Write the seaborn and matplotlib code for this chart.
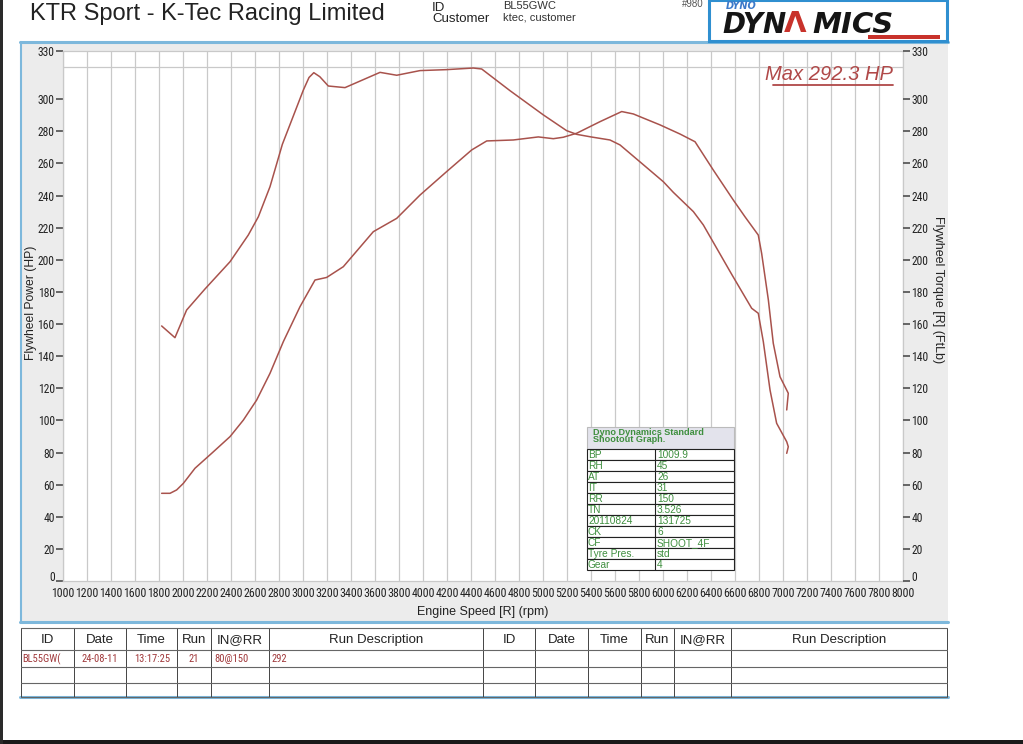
import os
import numpy as np
import pandas as pd
import matplotlib
matplotlib.use("Agg")
import matplotlib.pyplot as plt
from matplotlib import font_manager
from matplotlib.font_manager import FontProperties
from matplotlib.ticker import MultipleLocator
from matplotlib.patches import Rectangle
import seaborn as sns

# ---------------- data ----------------
rpm_power = [1822, 1892, 1947, 2003, 2100, 2239, 2392, 2503, 2614, 2725, 2836, 2975,
             3100, 3197, 3336, 3586, 3781, 3975, 4197, 4406, 4531, 4753, 4961, 5086,
             5169, 5281, 5475, 5656, 5753, 5808, 5975, 6142, 6267, 6419, 6586, 6683,
             6794, 6822, 6878, 6919, 6975, 7044, 7031]
power_hp = [54.6, 54.6, 56.7, 60.8, 70.2, 79.5, 89.9, 100.2, 112.7, 129.3, 149.0, 170.8,
            187.4, 189.0, 195.7, 217.5, 225.8, 240.3, 254.9, 268.4, 274.0, 274.6, 276.5, 275.4,
            276.3, 278.8, 286.0, 292.3, 290.8, 289.1, 284.0, 278.3, 273.5, 255.9, 237.2, 226.8,
            215.4, 204.0, 175.0, 148.0, 127.2, 116.9, 106.5]

rpm_torque = [1822, 1933, 2030, 2183, 2392, 2544, 2628, 2725, 2828, 3003, 3050, 3090, 3140, 3211,
              3350, 3642, 3781, 3975, 4197, 4419, 4489, 4725, 5003, 5197, 5281, 5400,
              5558, 5642, 5822, 6003, 6086, 6253, 6336, 6572, 6739, 6794, 6836, 6892,
              6947, 7031, 7044, 7031]
torque_ftlb = [158.8, 151.5, 168.7, 181.8, 198.8, 215.4, 226.8, 245.5, 271.9, 305.7, 313.5, 316.5, 314.0, 308.2,
               307.2, 316.7, 314.9, 317.8, 318.4, 319.4, 318.8, 305.3, 290.2, 280.4, 278.1, 276.5,
               274.6, 271.5, 260.1, 248.6, 242.0, 230.0, 221.7, 191.0, 169.8, 166.7, 149.0, 118.9,
               98.2, 86.7, 83.6, 79.5]

x_ticks = list(range(1000, 8001, 200))
y_ticks = list(range(0, 301, 20)) + [330]

info_keys = ["BP", "RH", "AT", "IT", "RR", "TN", "20110824", "CK", "CF", "Tyre Pres.", "Gear"]
info_vals = ["1009.9", "45", "26", "31", "150", "3.526", "131725", "6", "SHOOT_4F", "std", "4"]

table_headers = ["ID", "Date", "Time", "Run", "IN@RR", "Run Description",
                 "ID", "Date", "Time", "Run", "IN@RR", "Run Description"]
run_row = ["BL55GW(", "24-08-11", "13:17:25", "21", "80@150", "292"]

# ---------------- style ----------------
sns.set_theme(style="white")
plt.rcParams["font.family"] = ["Liberation Sans", "DejaVu Sans"]


def find_condensed():
    prefs = ["LiberationSansNarrow-Regular", "LiberationSansNarrow", "RobotoCondensed-Regular",
             "Roboto_Condensed-Regular", "DejaVuSansCondensed.ttf", "OpenSans_Condensed-Regular",
             "OpenSansCondensed"]
    paths = [f.fname for f in font_manager.fontManager.ttflist]
    for p in prefs:
        for path in paths:
            if p.lower() in os.path.basename(path).lower():
                return path
    for path in paths:
        b = os.path.basename(path).lower()
        if ("condensed" in b or "narrow" in b) and not any(
                k in b for k in ["bold", "italic", "oblique", "light", "thin", "black", "medium", "semi", "extra"]):
            return path
    return None


cond_path = find_condensed()


def cfp(size, italic=False):
    if cond_path is not None and not italic:
        fp = FontProperties(fname=cond_path)
        fp.set_size(size)
        return fp
    fp = FontProperties(family=["Liberation Sans", "DejaVu Sans"], size=size * (0.85 if cond_path is None else 1.0),
                        style="italic" if italic else "normal")
    return fp


W, H = 1023, 744
fig = plt.figure(figsize=(W / 100, H / 100), dpi=100)
fig.patch.set_facecolor("white")


def fx(px):
    return px / W


def fy(py):
    return 1 - py / H


# background overlay (pixel coords)
bg = fig.add_axes([0, 0, 1, 1], zorder=0)
bg.set_xlim(0, W); bg.set_ylim(H, 0); bg.axis("off")
bg.add_patch(Rectangle((21, 43), 927, 579, facecolor="#ececec", edgecolor="none"))
blue = "#7db8dc"
bg.plot([20, 948], [42, 42], color=blue, lw=2.2)
bg.plot([21, 21], [42, 622], color=blue, lw=1.5)
bg.plot([20, 948], [622, 622], color=blue, lw=2.2)
bg.plot([20, 948], [697, 697], color=blue, lw=2.2)
bg.add_patch(Rectangle((0, 740), W, 4, facecolor="#1a1a1a", edgecolor="none"))
bg.add_patch(Rectangle((0, 0), 3, H, facecolor="#2a2a2a", edgecolor="none"))

# ---------------- main axes ----------------
ax = fig.add_axes([fx(63), fy(581), fx(903) - fx(63), fy(51) - fy(581)], zorder=1)
ax.set_facecolor("white")
curve_col = "#a8524c"
df_p = pd.DataFrame({"rpm": rpm_power, "hp": power_hp})
sns.lineplot(data=df_p, x="rpm", y="hp", ax=ax, sort=False, estimator=None,
             color=curve_col, lw=1.1)
ax.set_xlim(1000, 8000)
ax.set_ylim(0, 330)
ax.set_xticks(x_ticks)
ax.set_xticklabels([str(t) for t in x_ticks])
ax.set_yticks(y_ticks)
ax.set_yticklabels([str(t) for t in y_ticks])
for lbl in ax.get_xticklabels():
    lbl.set_fontproperties(cfp(8.6))
for lbl in ax.get_yticklabels():
    lbl.set_fontproperties(cfp(8.4))
ax.get_yticklabels()[0].set_verticalalignment("baseline")
ax.yaxis.set_minor_locator(MultipleLocator(20))
ax.grid(True, which="major", axis="x", color="#c9c9c9", lw=0.9)
ax.grid(True, which="minor", axis="y", color="#c9c9c9", lw=0.9)
ax.tick_params(axis="y", which="major", length=5, color="#555555", pad=1, labelcolor="#222222")
ax.tick_params(axis="y", which="minor", length=0)
ax.tick_params(axis="x", length=0, pad=4, labelcolor="#222222")
for s in ax.spines.values():
    s.set_color("#c9c9c9"); s.set_linewidth(0.9)
ax.set_xlabel("Engine Speed [R] (rpm)", fontsize=9, color="#222222")
ax.xaxis.set_label_coords(0.5, -0.047)
ax.set_ylabel("Flywheel Power (HP)", fontsize=8.7, color="#222222")
ax.yaxis.set_label_coords(-0.0305, 0.525)

ax2 = ax.twinx()
df_t = pd.DataFrame({"rpm": rpm_torque, "tq": torque_ftlb})
sns.lineplot(data=df_t, x="rpm", y="tq", ax=ax2, sort=False, estimator=None,
             color=curve_col, lw=1.1)
ax2.set_ylim(0, 330)
ax2.set_yticks(y_ticks)
ax2.set_yticklabels([str(t) for t in y_ticks])
for lbl in ax2.get_yticklabels():
    lbl.set_fontproperties(cfp(8.4))
ax2.get_yticklabels()[0].set_verticalalignment("baseline")
ax2.tick_params(axis="y", length=5, color="#555555", pad=1, labelcolor="#222222")
ax2.grid(False)
for s in ax2.spines.values():
    s.set_visible(False)
ax2.set_ylabel("Flywheel Torque [R] (FtLb)", rotation=270, fontsize=9, color="#222222", va="center")
ax2.yaxis.set_label_coords(1.0415, 0.549)
ax2.set_xlabel("")

# "Max" label (italic, right edge at x=893px, underline at y=85px)
ax2.text(0.988, 0.945, "Max 292.3 HP", transform=ax2.transAxes, ha="right", va="baseline",
         fontsize=14.5, style="italic", color="#b04848")
ax2.plot([0.845, 0.988], [0.935, 0.935], transform=ax2.transAxes, color="#b04848", lw=1.3)

# ---------------- foreground overlay ----------------
fg = fig.add_axes([0, 0, 1, 1], zorder=3)
fg.set_xlim(0, W); fg.set_ylim(H, 0); fg.axis("off")
fg.patch.set_alpha(0)

# header
fg.text(30, 14, "KTR Sport - K-Tec Racing Limited", fontsize=17, va="center", ha="left", color="#222222")
fg.text(432, 8, "ID", fontsize=9.5, va="center", color="#222222")
fg.text(432, 19, "Customer", fontsize=9.5, va="center", color="#222222")
fg.text(503, 6, "BL55GWC", fontsize=8, va="center", color="#333333")
fg.text(503, 17, "ktec, customer", fontsize=8, va="center", color="#333333")
fg.text(682, 4, "#980", fontsize=7, va="center", color="#555555")
# logo
fg.add_patch(Rectangle((709, 0), 238, 41, facecolor="white", edgecolor="#2f8fd0", lw=2.2))
fg.text(726, 1, "DYNO", fontsize=7, fontweight="bold", style="italic", color="#3b79c9",
        va="top", fontfamily="DejaVu Sans")
fg.text(722, 25, "DYN", fontsize=20, fontweight="heavy", style="italic", color="#151515",
        va="center", fontfamily="DejaVu Sans")
fg.text(784, 24, "Λ", fontsize=21, fontweight="bold", color="#c8322b", va="center",
        fontfamily="DejaVu Sans")
fg.text(812, 25, "MICS", fontsize=21, fontweight="heavy", style="italic", color="#151515",
        va="center", fontfamily="DejaVu Sans")
fg.add_patch(Rectangle((868, 35), 72, 4, facecolor="#c8322b", edgecolor="none"))

# info box
green = "#3f8f3f"
bx0, bx1, bxm = 587, 734, 655
fg.add_patch(Rectangle((bx0, 427), bx1 - bx0, 22, facecolor="#e3e3ec", edgecolor="#bbbbbb", lw=0.8))
fg.text(593, 432.5, "Dyno Dynamics Standard", fontsize=6.6, fontweight="bold", color=green, va="center")
fg.text(593, 440, "Shootout Graph.", fontsize=6.6, fontweight="bold", color=green, va="center")
row_h = 11
top = 449
for i, (k, v) in enumerate(zip(info_keys, info_vals)):
    y0 = top + i * row_h
    fg.add_patch(Rectangle((bx0, y0), bx1 - bx0, row_h, facecolor="white", edgecolor="#222222", lw=0.8))
    fg.text(bx0 + 1, y0 + row_h / 2 + 0.5, k, fontsize=7.3, color=green, va="center")
    fg.text(bxm + 2, y0 + row_h / 2 + 0.5, v, fontsize=7.3, color=green, va="center")
fg.plot([bxm, bxm], [top, top + row_h * len(info_keys)], color="#222222", lw=0.8)

# bottom run table
cols = [21, 74, 126, 177, 211, 269, 483, 535, 588, 641, 674, 731, 947]
rows_y = [628, 650, 667, 683, 697]
for xv in cols:
    fg.plot([xv, xv], [628, 697], color="#444444", lw=0.7)
for yv in rows_y:
    fg.plot([21, 947], [yv, yv], color="#666666", lw=0.8)
for j, name in enumerate(table_headers):
    cx = (cols[j] + cols[j + 1]) / 2
    fg.text(cx, 640, name, fontsize=9.5, ha="center", va="center", color="#222222")
row_x = [22, 100, 152, 194, 214, 271]
row_ha = ["left", "center", "center", "center", "left", "left"]
for j, val in enumerate(run_row):
    t = fg.text(row_x[j], 659, val, ha=row_ha[j], va="center", color="#a0383a")
    t.set_fontproperties(cfp(7.6))

fig.savefig("out.png", dpi=100, facecolor="white")
